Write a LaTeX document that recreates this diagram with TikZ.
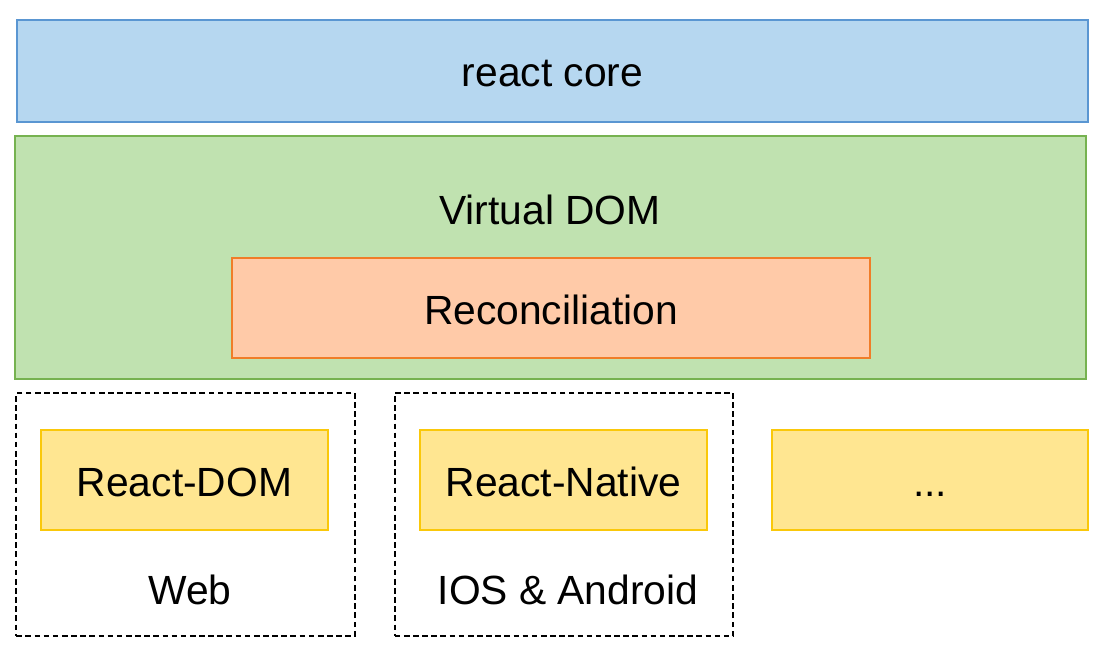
\documentclass[tikz,border=0pt]{standalone}
\usepackage{fontspec}
\setmainfont{Liberation Sans}
\usepackage{xcolor}
\definecolor{corefill}{RGB}{182,215,240}
\definecolor{coreline}{RGB}{90,150,210}
\definecolor{vdomfill}{RGB}{192,226,176}
\definecolor{vdomline}{RGB}{118,178,80}
\definecolor{recfill}{RGB}{255,202,168}
\definecolor{recline}{RGB}{240,125,40}
\definecolor{rendfill}{RGB}{255,230,145}
\definecolor{rendline}{RGB}{250,200,10}
\usetikzlibrary{positioning}

\begin{document}
\begin{tikzpicture}[
  x=0.025cm, y=-0.025cm,
  layer/.style={rectangle, inner sep=0pt, line width=1.4pt,
                text height=23.2pt, text depth=0pt,
                font=\fontsize{29}{32}\selectfont, align=center},
  platbox/.style={rectangle, inner sep=0pt, draw=black, line width=1.1pt,
                  dash pattern=on 4pt off 2.5pt,
                  minimum width=8.46cm, minimum height=6.075cm},
  rendbox/.style={layer, draw=rendline, fill=rendfill,
                  minimum width=7.175cm, minimum height=2.5cm},
  lbl/.style={font=\fontsize{29}{32}\selectfont}
]
\useasboundingbox (0,0) rectangle (1103,662);

% react core
\node[layer, draw=coreline, fill=corefill, text height=21.5pt,
      minimum width=26.775cm, minimum height=2.55cm] (core) at (552.5,71) {react core};

% virtual dom + reconciliation
\node[layer, draw=vdomline, fill=vdomfill,
      minimum width=26.775cm, minimum height=6.075cm] (vdom) at (550.5,257.5) {};
\node[lbl] (vdomlbl) at (550,210) {Virtual DOM};
\node[layer, draw=recline, fill=recfill,
      minimum width=15.95cm, minimum height=2.5cm] (recon) at (551,308) {Reconciliation};

% renderers
\node[platbox] (web) at (185.5,514.5) {};
\node[platbox] (native) at (564,514.5) {};
\node[rendbox] (rdom) at (184.5,480) {React-DOM};
\node[rendbox] (rnative) at (563.5,480) {React-Native};
\node[rendbox, minimum width=7.9cm] (rmore) at (930,480) {...};
\node[lbl] (weblbl) at (190,590) {Web};
\node[lbl] (natlbl) at (568,590) {IOS \& Android};
\end{tikzpicture}
\end{document}
